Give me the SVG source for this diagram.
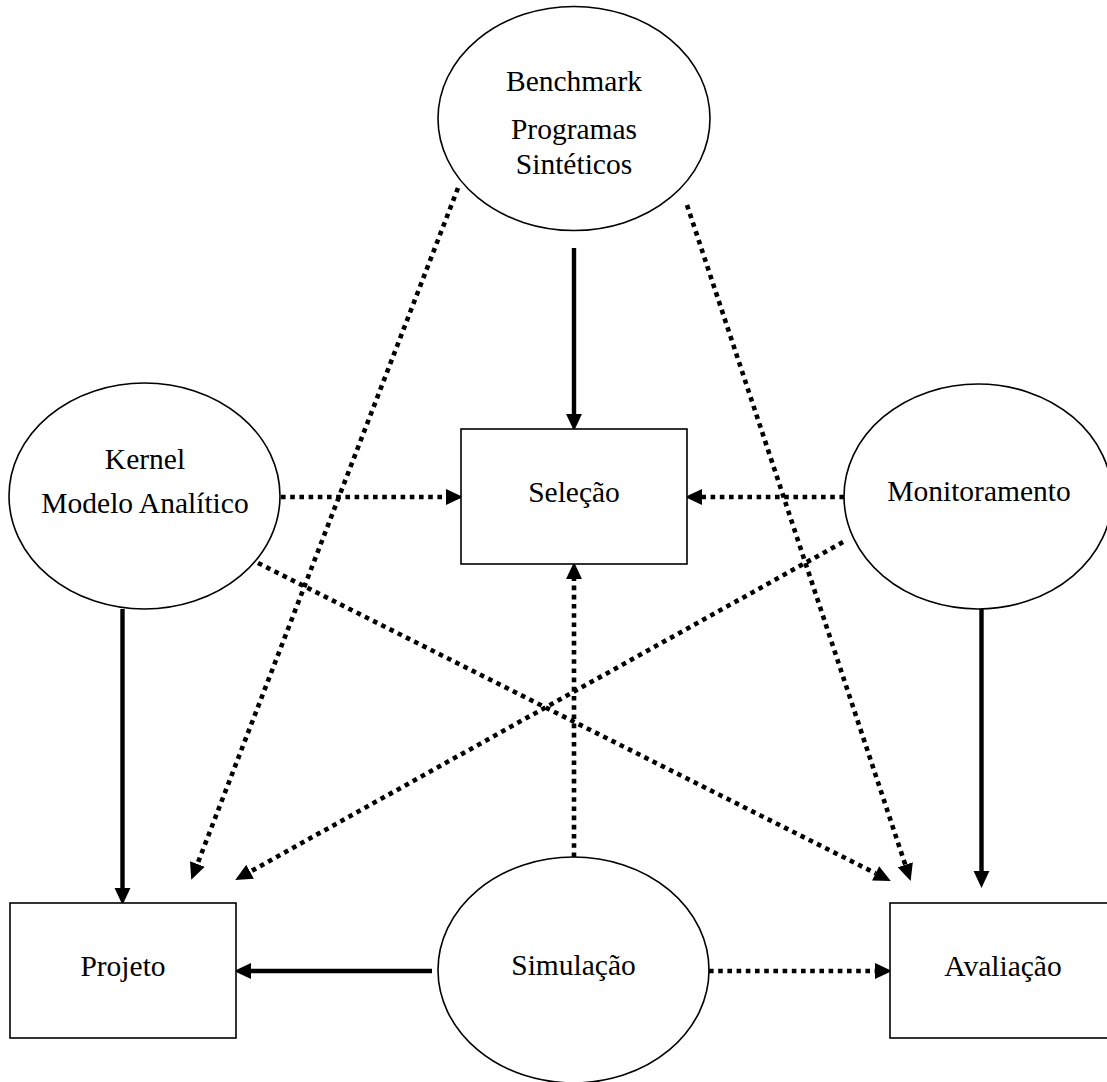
<svg xmlns="http://www.w3.org/2000/svg" width="1107" height="1082" viewBox="0 0 1107 1082">
<style>
.shape{fill:#fff;stroke:#000;stroke-width:1.6}
.lbl{font-family:"Liberation Serif","Times New Roman",serif;font-size:29.5px;fill:#000;text-anchor:middle}
.solid{fill:none;stroke:#000;stroke-width:4.4}
.dot{fill:none;stroke:#000;stroke-width:4.6;stroke-dasharray:4.6 4.6}
</style>
<defs>
<marker id="ah" markerUnits="userSpaceOnUse" markerWidth="17" markerHeight="17" viewBox="0 0 15 15" refX="0" refY="7.5" orient="auto">
<path d="M0,0.5 L15,7.5 L0,14.5 z" fill="#000"/>
</marker>
</defs>
<rect width="1107" height="1082" fill="#fff"/>
<g id="connectors">
<line class="solid" x1="574" y1="248" x2="574" y2="414" marker-end="url(#ah)"/>
<line class="solid" x1="122.5" y1="609" x2="122.5" y2="888" marker-end="url(#ah)"/>
<line class="solid" x1="981.5" y1="609" x2="981.5" y2="871" marker-end="url(#ah)"/>
<line class="solid" x1="432" y1="971" x2="251" y2="971" marker-end="url(#ah)"/>
<line class="dot" x1="281" y1="497" x2="446" y2="497" marker-end="url(#ah)"/>
<line class="dot" x1="844" y1="497" x2="702" y2="497" marker-end="url(#ah)"/>
<line class="dot" x1="574" y1="857" x2="574" y2="579" marker-end="url(#ah)"/>
<line class="dot" x1="709" y1="971" x2="875" y2="971" marker-end="url(#ah)"/>
<line class="dot" x1="458" y1="188" x2="197.4" y2="864" marker-end="url(#ah)"/>
<line class="dot" x1="687" y1="205" x2="905.3" y2="864.8" marker-end="url(#ah)"/>
<line class="dot" x1="258" y1="563" x2="875.6" y2="873.3" marker-end="url(#ah)"/>
<line class="dot" x1="843" y1="542" x2="250.1" y2="871.7" marker-end="url(#ah)"/>
</g>
<g id="benchmark">
<ellipse class="shape" cx="574" cy="118.5" rx="136" ry="112"/>
<text class="lbl" x="574" y="91">Benchmark</text>
<text class="lbl" x="574" y="139">Programas</text>
<text class="lbl" x="574" y="174">Sintéticos</text>
</g>
<g id="kernel">
<ellipse class="shape" cx="144.5" cy="496" rx="135.5" ry="113"/>
<text class="lbl" x="145" y="469">Kernel</text>
<text class="lbl" x="145" y="513">Modelo Analítico</text>
</g>
<g id="monitoramento">
<ellipse class="shape" cx="978" cy="496.5" rx="134" ry="112.5"/>
<text class="lbl" x="979" y="501">Monitoramento</text>
</g>
<g id="selecao">
<rect class="shape" x="461" y="429" width="226" height="135"/>
<text class="lbl" x="574" y="502">Seleção</text>
</g>
<g id="simulacao">
<ellipse class="shape" cx="573.5" cy="970" rx="135.5" ry="113"/>
<text class="lbl" x="573.5" y="975">Simulação</text>
</g>
<g id="projeto">
<rect class="shape" x="10" y="903" width="226" height="135"/>
<text class="lbl" x="123" y="976">Projeto</text>
</g>
<g id="avaliacao">
<rect class="shape" x="890" y="903" width="226" height="135"/>
<text class="lbl" x="1003" y="976">Avaliação</text>
</g>
</svg>
